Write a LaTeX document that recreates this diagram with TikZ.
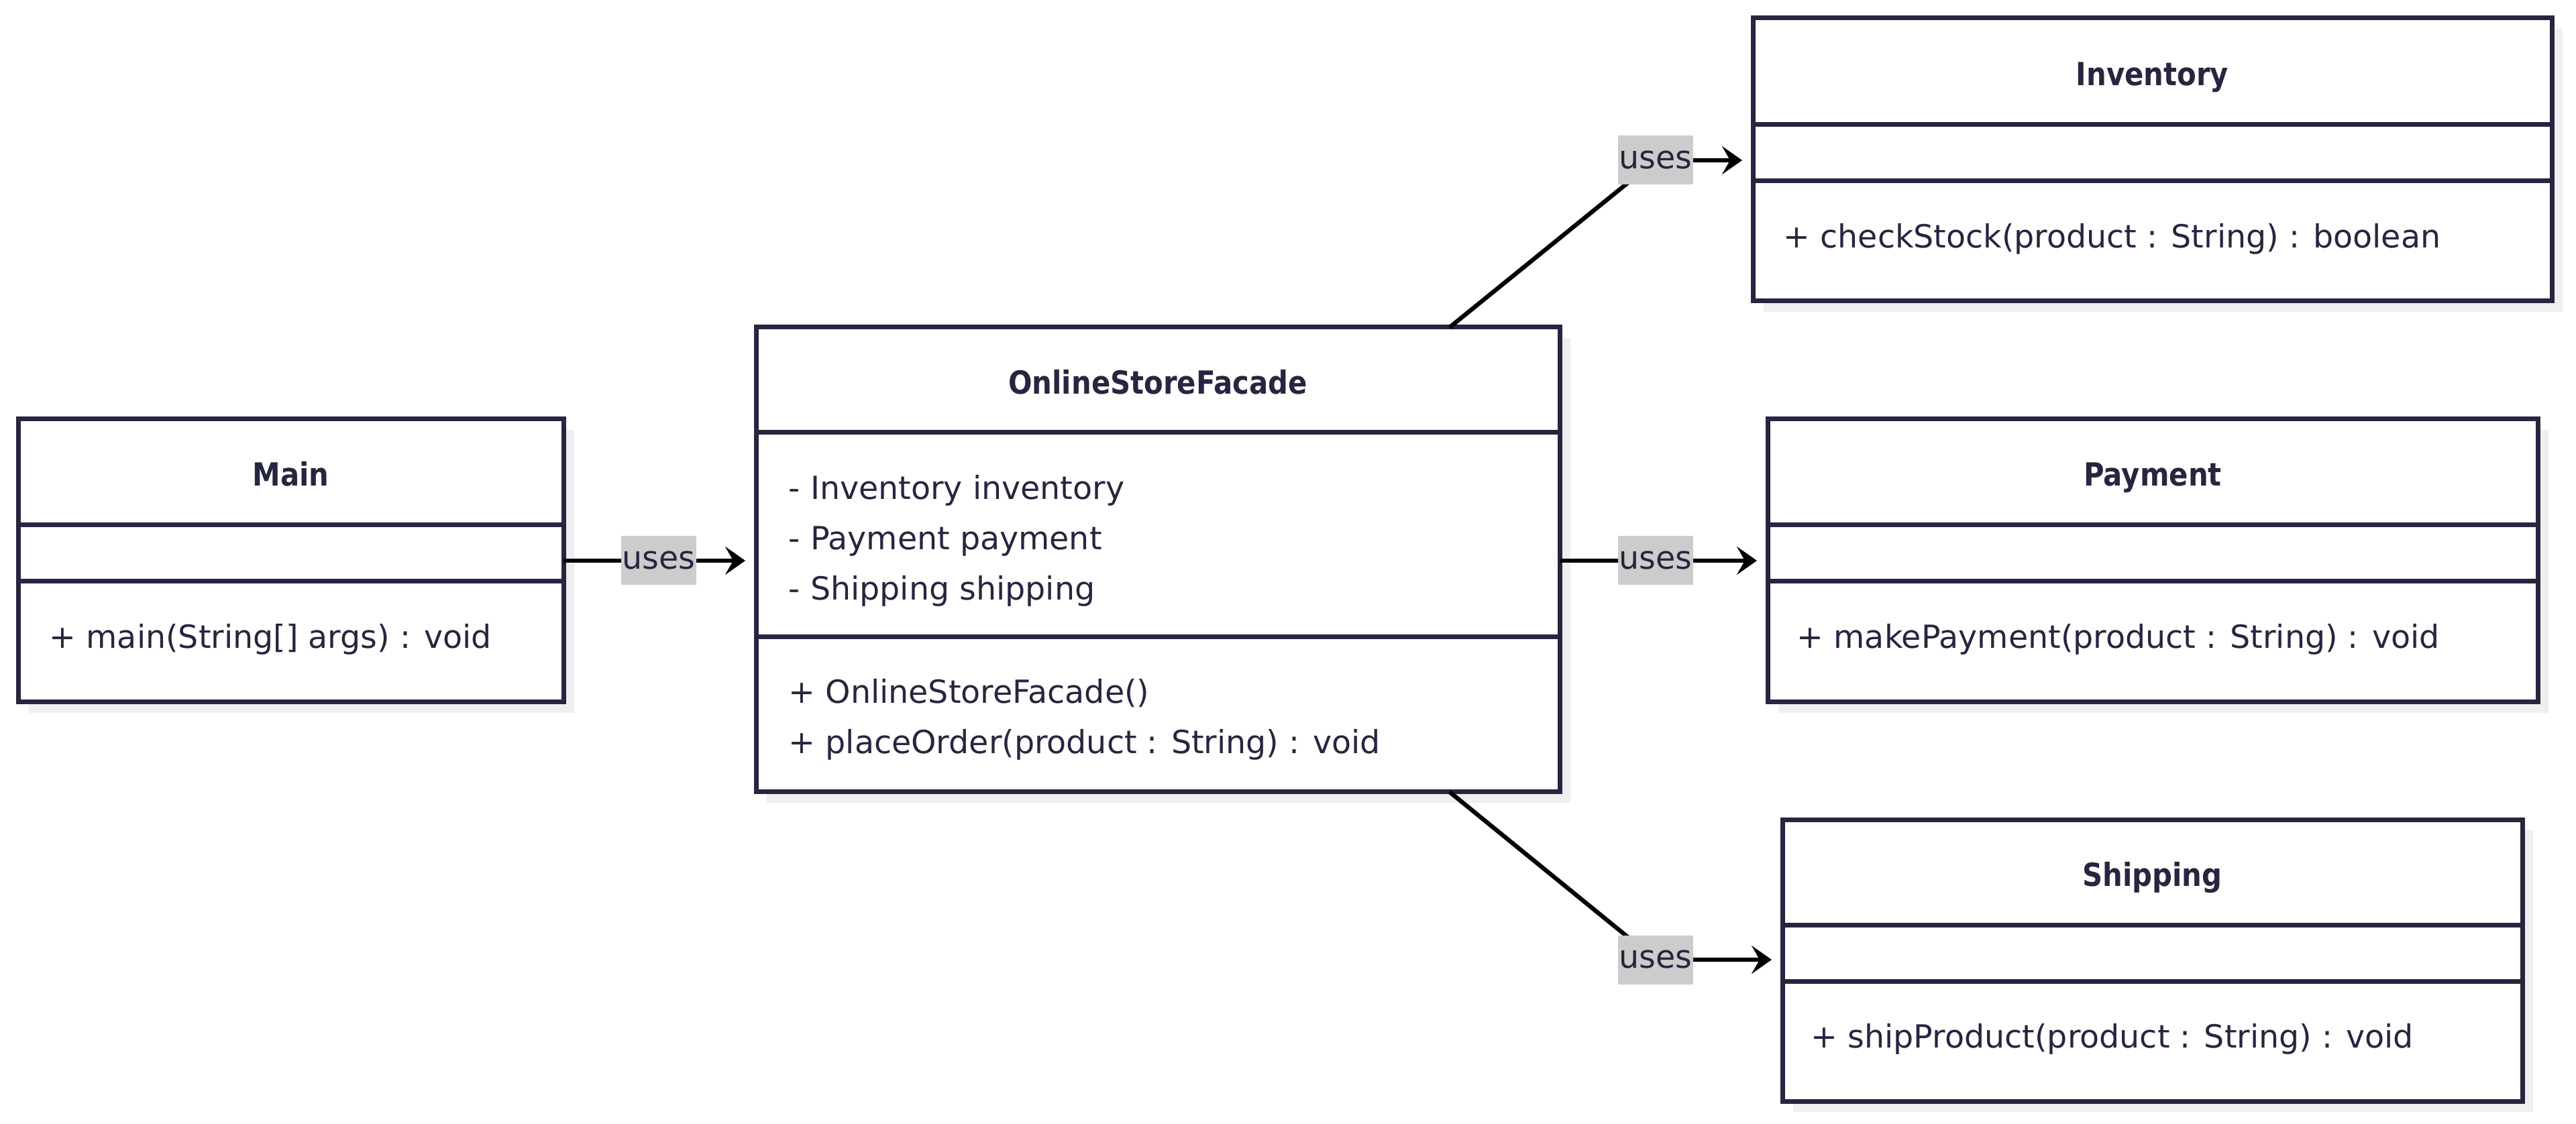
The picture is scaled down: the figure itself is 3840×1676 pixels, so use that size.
\documentclass[tikz,border=0pt]{standalone}
\usepackage{fontspec}
\usepackage{graphicx}
\setmainfont{DejaVu Sans}
\usetikzlibrary{arrows.meta,shadows,fit}
\definecolor{ink}{HTML}{262640}
\definecolor{shade}{HTML}{EFEFEF}
\definecolor{lblbg}{HTML}{CCCCCC}
\newcommand\clstitle[1]{\scalebox{0.88}[1]{\bfseries #1}}
\begin{document}
\begin{tikzpicture}[x=0.25pt,y=-0.25pt,
  classbox/.style={draw=ink, line width=1.75pt, fill=white, inner sep=0pt, outer sep=0pt,
    drop shadow={shadow xshift=4pt, shadow yshift=-4pt, fill=shade, opacity=1}},
  divider/.style={draw=ink, line width=1.75pt},
  title/.style={font=\fontsize{11.875pt}{14pt}\selectfont, text=ink, anchor=base, inner sep=0pt},
  member/.style={font=\fontsize{11.875pt}{14pt}\selectfont, text=ink, anchor=base west, inner sep=0pt},
  uses/.style={draw=black, line width=1.6pt, -{Stealth[length=7.5pt,width=10.5pt,inset=3pt]}, shorten >=4pt},
  lbl/.style={fill=lblbg, text=ink, font=\fontsize{11.875pt}{14pt}\selectfont, inner sep=0pt,
    minimum width=28pt, minimum height=18.25pt}
]
\useasboundingbox (0,0) rectangle (3840,1676);

% ---------- class boxes ----------
\node[classbox, fit={(27,625) (840,1047)}] (main) {};
\draw[divider] (27,783) -- (840,783);
\draw[divider] (27,867) -- (840,867);
\node[title] (mainT) at (433.5,725) {\clstitle{Main}};
\node[member] (mainM1) at (73,967) {+ main(String[] args) : void};

\node[classbox, fit={(1127,488) (2325,1181)}] (facade) {};
\draw[divider] (1127,645) -- (2325,645);
\draw[divider] (1127,950) -- (2325,950);
\node[title] (facadeT) at (1726,588) {\clstitle{OnlineStoreFacade}};
\node[member] (facadeA1) at (1175,745) {- Inventory inventory};
\node[member] (facadeA2) at (1175,820) {- Payment payment};
\node[member] (facadeA3) at (1175,895) {- Shipping shipping};
\node[member] (facadeM1) at (1175,1049) {+ OnlineStoreFacade()};
\node[member] (facadeM2) at (1175,1124) {+ placeOrder(product : String) : void};

\node[classbox, fit={(2613,27) (3804,449)}] (inventory) {};
\draw[divider] (2613,186) -- (3804,186);
\draw[divider] (2613,270) -- (3804,270);
\node[title] (inventoryT) at (3208.5,128) {\clstitle{Inventory}};
\node[member] (inventoryM1) at (2658,370) {+ checkStock(product : String) : boolean};

\node[classbox, fit={(2635,625) (3783,1047)}] (payment) {};
\draw[divider] (2635,783) -- (3783,783);
\draw[divider] (2635,867) -- (3783,867);
\node[title] (paymentT) at (3209,725) {\clstitle{Payment}};
\node[member] (paymentM1) at (2678,967) {+ makePayment(product : String) : void};

\node[classbox, fit={(2657,1222) (3760,1642)}] (shipping) {};
\draw[divider] (2657,1379) -- (3760,1379);
\draw[divider] (2657,1463) -- (3760,1463);
\node[title] (shippingT) at (3208.5,1322) {\clstitle{Shipping}};
\node[member] (shippingM1) at (2699,1562) {+ shipProduct(product : String) : void};

% ---------- connectors ----------
\coordinate (b1) at (982,836);
\coordinate (b2) at (2468,239);
\coordinate (b3) at (2468,836);
\coordinate (b4) at (2468,1431);

\draw[uses] (main.east |- b1) -- (facade.west |- b1);
\draw[uses] ([xshift=108.75pt]facade.north) -- (b2) -- (inventory.west |- b2);
\draw[uses] (facade.east |- b3) -- (payment.west |- b3);
\draw[uses] ([xshift=108.75pt]facade.south) -- (b4) -- (shipping.west |- b4);

\node[lbl] (lab1) at (b1) {uses};
\node[lbl] (lab2) at (b2) {uses};
\node[lbl] (lab3) at (b3) {uses};
\node[lbl] (lab4) at (b4) {uses};
\end{tikzpicture}
\end{document}
